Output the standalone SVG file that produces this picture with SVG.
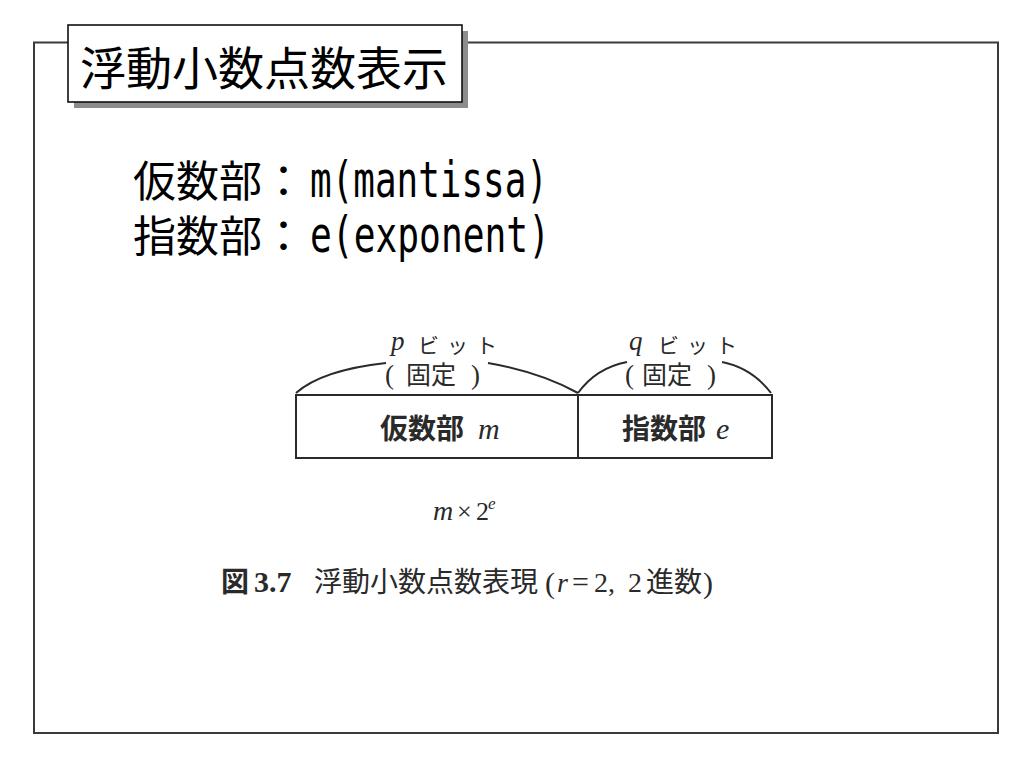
<svg xmlns="http://www.w3.org/2000/svg" width="1024" height="768" viewBox="0 0 1024 768">
<style>
.jp{font-family:"Noto Sans CJK JP","Noto Sans CJK SC",sans-serif}
.mono{font-family:"DejaVu Sans Mono","Liberation Mono",monospace}
.ser{font-family:"Liberation Serif","Noto Sans CJK JP",serif}
.fig{fill:#2a2a2a}
.line{fill:none;stroke:#2a2a2a;stroke-width:2}
</style>
<rect width="1024" height="768" fill="#ffffff"/>
<g id="frame">
<rect x="34" y="42.5" width="964" height="690.5" fill="none" stroke="#3a3a3a" stroke-width="2"/>
</g>
<g id="title">
<rect x="74" y="31" width="394" height="77" fill="#8c8c8c"/>
<rect x="68" y="25" width="394" height="77" fill="#ffffff" stroke="#111" stroke-width="1.6"/>
<text x="80" y="85" class="jp" font-size="46" fill="#000">浮動小数点数表示</text>
</g>
<g id="body" fill="#000">
<text x="133" y="197" class="jp" font-size="43">仮数部：</text>
<text x="310" y="197" class="mono" font-size="50" textLength="238" lengthAdjust="spacingAndGlyphs">m(mantissa)</text>
<text x="133" y="252" class="jp" font-size="43">指数部：</text>
<text x="310" y="252" class="mono" font-size="50" textLength="240" lengthAdjust="spacingAndGlyphs">e(exponent)</text>
</g>
<g id="connectors">
<path class="line" d="M296,393 Q322,370 386,363"/>
<path class="line" d="M488,363 Q540,372 578,393"/>
<path class="line" d="M578,393 Q596,368 627,362"/>
<path class="line" d="M722,362 Q752,368 771,393"/>
</g>
<g id="mantissa-field">
<rect x="296" y="395" width="282" height="63" fill="#ffffff" stroke="#2a2a2a" stroke-width="2"/>
<text x="380" y="439" class="jp fig" font-size="28" font-weight="bold">仮数部</text>
<text x="478" y="439" class="ser fig" font-size="30" font-style="italic">m</text>
</g>
<g id="exponent-field">
<rect x="578" y="395" width="194" height="63" fill="#ffffff" stroke="#2a2a2a" stroke-width="2"/>
<text x="622" y="439" class="jp fig" font-size="28" font-weight="bold">指数部</text>
<text x="716" y="439" class="ser fig" font-size="30" font-style="italic">e</text>
</g>
<g id="p-label" class="fig">
<text x="391" y="350" class="ser" font-size="27" font-style="italic">p</text>
<text x="418" y="353" class="jp" font-size="21" letter-spacing="8">ビット</text>
<text x="385" y="384" class="ser" font-size="27">(<tspan x="406" class="jp" font-size="25">固定</tspan><tspan x="471">)</tspan></text>
</g>
<g id="q-label" class="fig">
<text x="629" y="350" class="ser" font-size="27" font-style="italic">q</text>
<text x="658" y="353" class="jp" font-size="21" letter-spacing="8">ビット</text>
<text x="625" y="384" class="ser" font-size="27">(<tspan x="642" class="jp" font-size="25">固定</tspan><tspan x="707">)</tspan></text>
</g>
<g id="formula" class="fig">
<text x="433" y="520" class="ser" font-size="28" font-style="italic">m</text>
<text x="457" y="520" class="ser" font-size="26">×</text>
<text x="476" y="520" class="ser" font-size="26">2</text>
<text x="488" y="509" class="ser" font-size="17" font-style="italic">e</text>
</g>
<g id="caption" class="fig">
<text x="221" y="592" class="jp" font-size="28" font-weight="bold">図</text>
<text x="254" y="592" class="ser" font-size="30" font-weight="bold">3.7</text>
<text x="314" y="592" class="jp" font-size="28">浮動小数点数表現</text>
<text x="545" y="593" class="ser" font-size="30">(</text>
<text x="557" y="592" class="ser" font-size="28" font-style="italic">r</text>
<text x="572" y="592" class="ser" font-size="30">=</text>
<text x="594" y="592" class="ser" font-size="28">2</text>
<text x="608" y="592" class="ser" font-size="28">,</text>
<text x="628" y="592" class="ser" font-size="28">2</text>
<text x="646" y="592" class="jp" font-size="28">進数</text>
<text x="703" y="593" class="ser" font-size="30">)</text>
</g>
</svg>
